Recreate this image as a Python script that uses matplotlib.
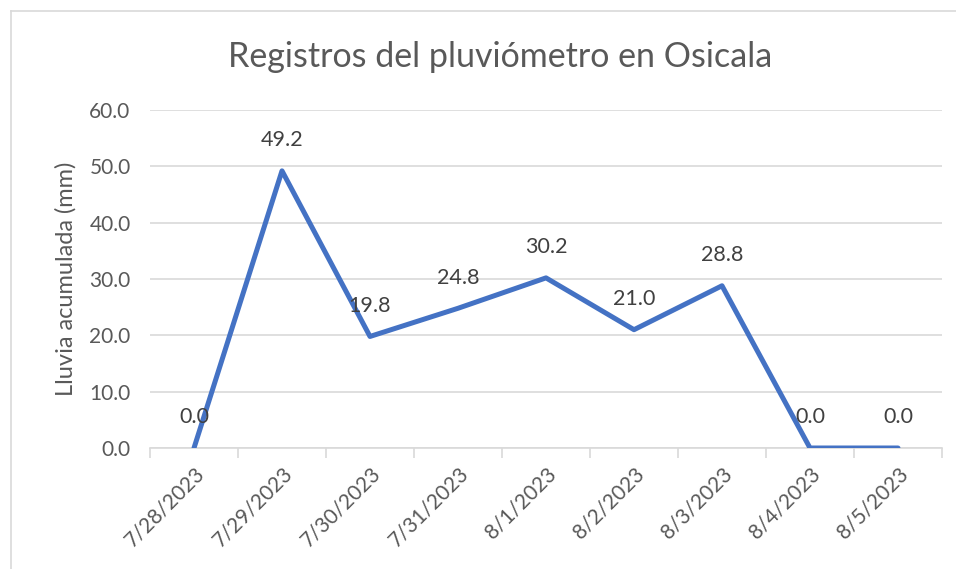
import matplotlib
matplotlib.use("Agg")
import matplotlib.pyplot as plt
from matplotlib.lines import Line2D

plt.rcParams['font.family'] = ['Lato', 'DejaVu Sans']

# data
fechas = ['7/28/2023', '7/29/2023', '7/30/2023', '7/31/2023', '8/1/2023',
          '8/2/2023', '8/3/2023', '8/4/2023', '8/5/2023']
lluvia = [0.0, 49.2, 19.8, 24.8, 30.2, 21.0, 28.8, 0.0, 0.0]
y_ticks = [0, 10, 20, 30, 40, 50, 60]

txt = '#595959'
grid = '#D9D9D9'
azul = '#4472C4'

fig = plt.figure(figsize=(9.56, 5.69), dpi=100)
ax = fig.add_axes([150/956, 1 - 448/569, 792/956, 338/569])

x = list(range(len(fechas)))
ax.plot(x, lluvia, color=azul, lw=3.6, solid_capstyle='round', zorder=3)

for xi, v in zip(x, lluvia):
    ax.annotate(f'{v:.1f}', (xi, v), xytext=(0, 22), textcoords='offset points',
                ha='center', va='center', fontsize=15.5, color='#404040', zorder=4)

ax.set_xlim(-0.5, len(fechas) - 0.5)
ax.set_ylim(0, 60)
ax.set_yticks(y_ticks)
ax.set_yticklabels([f'{t:.1f}' for t in y_ticks])
ax.yaxis.grid(True, color=grid, lw=1.2)
ax.set_axisbelow(True)

ax.set_xticks(x)
ax.set_xticklabels(fechas, rotation=45, ha='right', rotation_mode='anchor')
ax.set_xticks([i - 0.5 for i in range(len(fechas) + 1)], minor=True)
ax.tick_params(axis='x', which='major', length=0, pad=11, labelsize=15, labelcolor=txt)
ax.tick_params(axis='x', which='minor', length=7, width=1.2, color=grid, direction='out')
ax.tick_params(axis='y', length=0, pad=14, labelsize=15, labelcolor=txt)

for s in ['top', 'right', 'left']:
    ax.spines[s].set_visible(False)
ax.spines['bottom'].set_color(grid)
ax.spines['bottom'].set_linewidth(1.2)

ax.set_ylabel('Lluvia acumulada (mm)', fontsize=17, color=txt, labelpad=9)
fig.text(500/956, 1 - 57/569, 'Registros del pluviómetro en Osicala',
         ha='center', va='center', fontsize=24.5, color=txt)

# chart border
fig.add_artist(Line2D([11/956, 11/956], [0, 1 - 11/569], color=grid, lw=1.2))
fig.add_artist(Line2D([11/956, 1], [1 - 11/569, 1 - 11/569], color=grid, lw=1.2))

fig.savefig('out.png', dpi=100)
